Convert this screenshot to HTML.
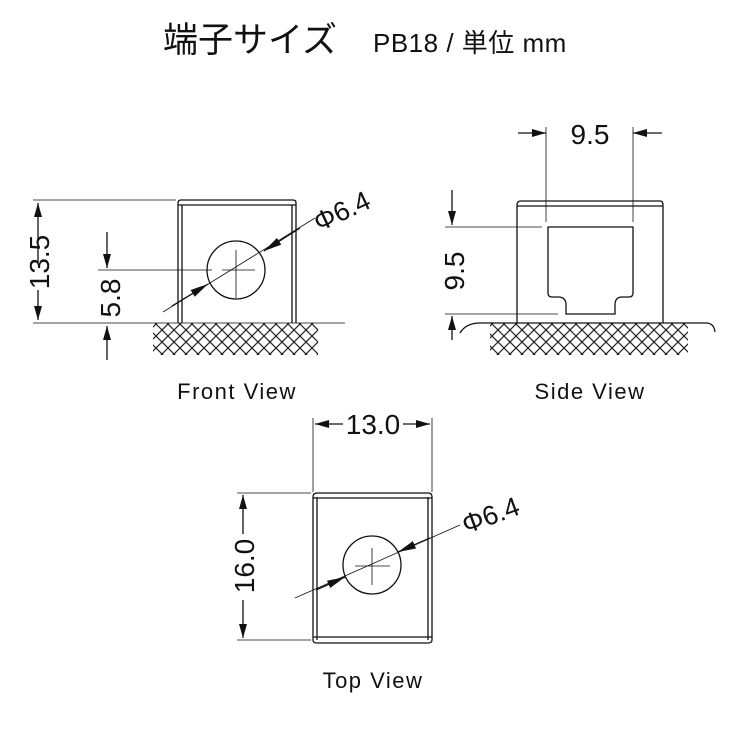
<!DOCTYPE html>
<html><head><meta charset="utf-8"><style>
html,body{margin:0;padding:0;background:#fff;}
svg{display:block;}
text{font-family:"Liberation Sans","Noto Sans CJK JP",sans-serif;fill:#111;}
</style></head><body>
<svg width="750" height="750" viewBox="0 0 750 750" xmlns="http://www.w3.org/2000/svg">
<defs>
<pattern id="h" width="12" height="12" patternUnits="userSpaceOnUse">
<path d="M0 0L12 12M12 0L0 12" stroke="#222" stroke-width="1.2"/>
</pattern>
<marker id="a" viewBox="0 0 14 8" refX="14" refY="4" markerWidth="14" markerHeight="8" orient="auto" markerUnits="userSpaceOnUse">
<path d="M0 0L14 4L0 8z" fill="#111"/>
</marker>
<marker id="b" viewBox="0 0 18 8" refX="18" refY="4" markerWidth="18" markerHeight="8" orient="auto" markerUnits="userSpaceOnUse">
<path d="M0 0L18 4L0 8z" fill="#111"/>
</marker>
</defs>
<text x="163" y="52" font-size="35">端子サイズ</text>
<text x="373" y="52" font-size="26" letter-spacing="0.5">PB18 / 単位 mm</text>

<g stroke="#111" fill="none" stroke-width="1.3">
<!-- Front view -->
<rect x="153" y="323" width="165" height="32" fill="url(#h)" stroke="none"/>
<path d="M178 323V203Q178 200 181 200H293Q296 200 296 203V323"/>
<path d="M182 323V205M292 323V205M178 205H296"/>
<circle cx="236" cy="270" r="29"/>
<g stroke-width="0.8">
<path d="M33 323H345M33 200H176M98 270H212M222 270H255M236 250V298"/>
<path d="M163 312L315 218"/>
</g>
<path d="M38 262V203" marker-end="url(#a)"/>
<path d="M38 290V320" marker-end="url(#a)"/>
<path d="M107 232V268" marker-end="url(#a)"/>
<path d="M107 360V326" marker-end="url(#a)"/>
<path d="M172 306L208 284" marker-end="url(#b)"/>
<path d="M300 228L264 251" marker-end="url(#b)"/>

<!-- Side view -->
<rect x="490" y="323" width="198" height="32" fill="url(#h)" stroke="none"/>
<path d="M460 333Q466 323 480 323H706Q714 323 715 332"/>
<path d="M517 323V205Q517 201 521 201H660Q663 201 663 205V323M517 206H663"/>
<path d="M548 227H633V293Q633 297 629 297H622Q615 297 615 305V314H566V305Q566 297 558 297H552Q548 297 548 293Z"/>
<g stroke-width="0.8">
<path d="M546 127V222M633 127V222M445 227H542M445 314H558"/>
</g>
<path d="M518 133H546" marker-end="url(#a)"/>
<path d="M662 133H633" marker-end="url(#a)"/>
<path d="M452 190V225" marker-end="url(#a)"/>
<path d="M452 340V316" marker-end="url(#a)"/>

<!-- Top view -->
<path d="M313 640V497Q313 493 317 493H428Q432 493 432 497V640Q432 643 428 643H317Q313 643 313 640Z"/>
<path d="M317 497V640M428 497V640M313 498H432M313 637H432"/>
<circle cx="372" cy="565" r="29"/>
<g stroke-width="0.8">
<path d="M313 418V492M432 418V492M237 493H311M237 640H311M355 566H390M372 548V585"/>
<path d="M295 598L460 525"/>
</g>
<path d="M343 424H315" marker-end="url(#a)"/>
<path d="M403 424H430" marker-end="url(#a)"/>
<path d="M243 534V495" marker-end="url(#a)"/>
<path d="M243 600V638" marker-end="url(#a)"/>
<path d="M316 590L345 577" marker-end="url(#b)"/>
<path d="M430 538L398 552" marker-end="url(#b)"/>
</g>

<text x="0" y="0" font-size="28" text-anchor="middle" transform="translate(49,262) rotate(-90)">13.5</text>
<text x="0" y="0" font-size="28" text-anchor="middle" transform="translate(120,298) rotate(-90)">5.8</text>
<text x="0" y="0" font-size="27" transform="translate(319,232) rotate(-25)">Φ6.4</text>
<text x="590" y="144" font-size="28" text-anchor="middle">9.5</text>
<text x="0" y="0" font-size="28" text-anchor="middle" transform="translate(464,271) rotate(-90)">9.5</text>
<text x="373" y="434" font-size="28" text-anchor="middle">13.0</text>
<text x="0" y="0" font-size="28" text-anchor="middle" transform="translate(254,566) rotate(-90)">16.0</text>
<text x="0" y="0" font-size="27" transform="translate(466,534) rotate(-20)">Φ6.4</text>

<text x="237" y="399" font-size="22" letter-spacing="1.5" text-anchor="middle">Front View</text>
<text x="590" y="399" font-size="22" letter-spacing="1.5" text-anchor="middle">Side View</text>
<text x="373" y="688" font-size="22" letter-spacing="1.5" text-anchor="middle">Top View</text>
</svg>
</body></html>
